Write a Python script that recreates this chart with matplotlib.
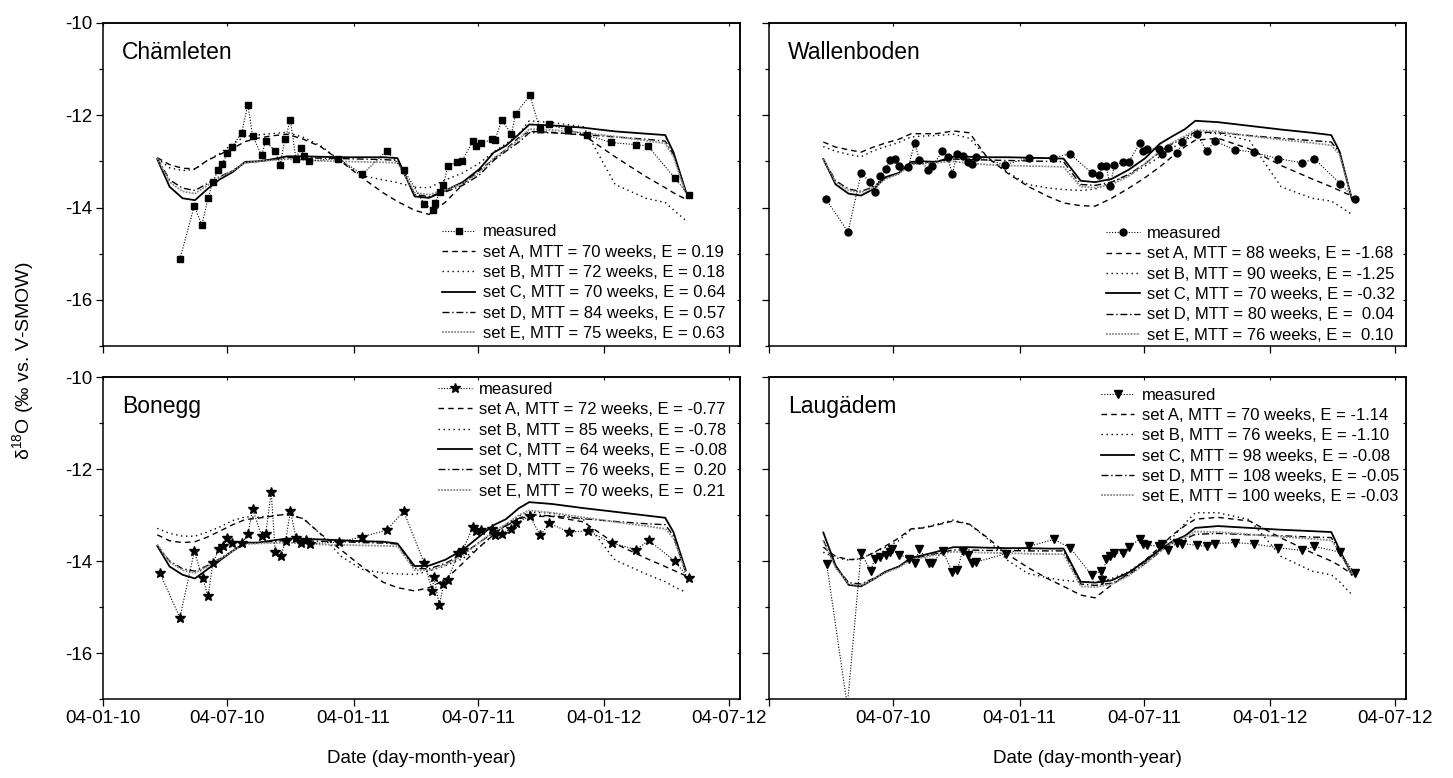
import matplotlib
matplotlib.use("Agg")
import matplotlib.pyplot as plt
import matplotlib.dates as mdates
from matplotlib.ticker import MultipleLocator, FixedLocator, NullFormatter
import pandas as pd

plt.rcParams["font.family"] = ["Liberation Sans", "DejaVu Sans"]
plt.rcParams["mathtext.fontset"] = "custom"
plt.rcParams["mathtext.rm"] = "Liberation Sans"
plt.rcParams["mathtext.it"] = "Liberation Sans:italic"
plt.rcParams["axes.unicode_minus"] = False

# ---- data ----
tick_dates = ["2010-01-04", "2010-07-04", "2011-01-04", "2011-07-04", "2012-01-04", "2012-07-04"]
tick_labels = ["04-01-10", "04-07-10", "04-01-11", "04-07-11", "04-01-12", "04-07-12"]

# model output (all parameter sets share the same time steps)
model_dates = ["2010-03-24", "2010-04-11", "2010-04-30", "2010-05-18", "2010-06-05", "2010-06-23",
               "2010-07-12", "2010-07-30", "2010-08-17", "2010-09-05", "2010-09-29", "2010-10-23",
               "2010-11-17", "2010-12-17", "2011-01-16", "2011-02-16", "2011-03-09", "2011-04-03",
               "2011-04-24", "2011-05-18", "2011-06-12", "2011-07-06", "2011-07-27", "2011-08-14",
               "2011-09-02", "2011-09-17", "2011-10-20", "2011-12-05", "2012-01-20", "2012-03-05",
               "2012-04-02", "2012-04-14", "2012-05-02"]

# Chämleten
cham_dates = ["2010-04-26", "2010-05-17", "2010-05-28", "2010-06-06", "2010-06-13", "2010-06-21",
              "2010-06-27", "2010-07-04", "2010-07-11", "2010-07-25", "2010-08-03", "2010-08-10",
              "2010-08-23", "2010-08-29", "2010-09-12", "2010-09-19", "2010-09-26", "2010-10-04",
              "2010-10-12", "2010-10-19", "2010-10-24", "2010-10-31", "2010-12-13", "2011-01-17",
              "2011-02-21", "2011-03-18", "2011-04-17", "2011-04-30", "2011-05-02", "2011-05-10",
              "2011-05-15", "2011-05-21", "2011-06-04", "2011-06-11", "2011-06-27", "2011-07-01",
              "2011-07-09", "2011-07-25", "2011-07-29", "2011-08-08", "2011-08-22", "2011-08-28",
              "2011-09-18", "2011-10-02", "2011-10-15", "2011-11-13", "2011-12-10", "2012-01-14",
              "2012-02-20", "2012-03-08", "2012-04-16", "2012-05-06"]
cham_meas = [-15.12, -13.96, -14.38, -13.80, -13.44, -13.18, -13.05, -12.82, -12.69, -12.38,
             -11.77, -12.45, -12.87, -12.56, -12.78, -13.07, -12.52, -12.11, -12.94, -12.72,
             -12.89, -12.99, -12.94, -13.28, -12.77, -13.18, -13.92, -14.05, -13.91, -13.67,
             -13.52, -13.11, -13.01, -12.99, -12.56, -12.66, -12.61, -12.52, -12.53, -12.11,
             -12.41, -11.97, -11.57, -12.28, -12.20, -12.32, -12.43, -12.59, -12.64, -12.67,
             -13.36, -13.73]
cham_a = [-12.92, -13.07, -13.15, -13.16, -12.98, -12.85, -12.72, -12.57, -12.50, -12.45, -12.41,
          -12.52, -12.68, -13.00, -13.35, -13.68, -13.87, -14.06, -14.15, -13.88, -13.50, -13.20,
          -12.95, -12.74, -12.48, -12.35, -12.37, -12.43, -12.90, -13.33, -13.57, -13.68, -13.82]
cham_b = [-12.93, -13.14, -13.20, -13.17, -12.98, -12.83, -12.62, -12.46, -12.43, -12.40, -12.37,
          -12.48, -12.66, -13.00, -13.31, -13.40, -13.46, -13.56, -13.57, -13.40, -13.25, -13.04,
          -12.80, -12.62, -12.40, -12.12, -12.16, -12.25, -13.50, -13.80, -13.89, -14.05, -14.28]
cham_c = [-12.95, -13.55, -13.80, -13.84, -13.60, -13.39, -13.23, -13.01, -13.00, -12.96, -12.89,
          -12.89, -12.90, -12.91, -12.91, -12.91, -12.93, -13.76, -13.79, -13.63, -13.45, -13.17,
          -12.81, -12.66, -12.41, -12.20, -12.22, -12.27, -12.35, -12.40, -12.43, -12.80, -13.65]
cham_d = [-12.93, -13.40, -13.58, -13.63, -13.48, -13.33, -13.20, -13.03, -13.00, -12.97, -12.92,
          -12.92, -12.93, -12.94, -12.95, -12.96, -12.98, -13.72, -13.76, -13.66, -13.52, -13.30,
          -12.98, -12.78, -12.58, -12.38, -12.38, -12.42, -12.47, -12.52, -12.56, -12.85, -13.65]
cham_e = [-12.93, -13.45, -13.65, -13.70, -13.52, -13.35, -13.20, -13.03, -13.00, -12.98, -12.95,
          -12.97, -12.99, -13.00, -13.01, -13.02, -13.03, -13.68, -13.72, -13.62, -13.48, -13.25,
          -12.93, -12.75, -12.52, -12.30, -12.32, -12.38, -12.46, -12.55, -12.61, -12.90, -13.68]
cham_labels = ["set A, MTT = 70 weeks, E = 0.19", "set B, MTT = 72 weeks, E = 0.18",
               "set C, MTT = 70 weeks, E = 0.64", "set D, MTT = 84 weeks, E = 0.57",
               "set E, MTT = 75 weeks, E = 0.63"]

# Wallenboden
wall_dates = ["2010-03-28", "2010-04-29", "2010-05-18", "2010-05-31", "2010-06-08", "2010-06-15",
              "2010-06-23", "2010-06-29", "2010-07-06", "2010-07-12", "2010-07-26", "2010-08-04",
              "2010-08-11", "2010-08-24", "2010-08-30", "2010-09-13", "2010-09-21", "2010-09-28",
              "2010-10-05", "2010-10-13", "2010-10-21", "2010-10-26", "2010-11-02", "2010-12-14",
              "2011-01-17", "2011-02-22", "2011-03-18", "2011-04-19", "2011-04-30", "2011-05-03",
              "2011-05-10", "2011-05-16", "2011-05-22", "2011-06-04", "2011-06-12", "2011-06-28",
              "2011-07-03", "2011-07-09", "2011-07-26", "2011-07-31", "2011-08-08", "2011-08-22",
              "2011-08-29", "2011-09-19", "2011-10-04", "2011-10-15", "2011-11-14", "2011-12-11",
              "2012-01-15", "2012-02-20", "2012-03-08", "2012-04-15", "2012-05-06"]
wall_meas = [-13.82, -14.53, -13.26, -13.44, -13.66, -13.31, -13.17, -12.98, -12.95, -13.09,
             -13.12, -12.60, -12.96, -13.18, -13.11, -12.78, -12.91, -13.27, -12.83, -12.88,
             -13.01, -13.05, -12.91, -13.07, -12.93, -12.93, -12.83, -13.25, -13.29, -13.11,
             -13.11, -13.54, -13.08, -13.01, -13.01, -12.61, -12.78, -12.73, -12.73, -12.84,
             -12.71, -12.82, -12.58, -12.41, -12.78, -12.56, -12.75, -12.80, -12.94, -13.03,
             -12.94, -13.48, -13.82]
wall_a = [-12.58, -12.69, -12.75, -12.80, -12.69, -12.60, -12.52, -12.40, -12.40, -12.40, -12.34,
          -12.38, -12.90, -13.25, -13.54, -13.77, -13.90, -13.96, -13.97, -13.80, -13.58, -13.35,
          -13.12, -12.90, -12.68, -12.54, -12.50, -12.73, -13.09, -13.38, -13.55, -13.63, -13.75]
wall_b = [-12.68, -12.78, -12.85, -12.90, -12.77, -12.68, -12.59, -12.47, -12.45, -12.44, -12.41,
          -12.50, -12.90, -13.23, -13.50, -13.58, -13.61, -13.63, -13.60, -13.45, -13.30, -13.10,
          -12.90, -12.72, -12.52, -12.37, -12.40, -12.55, -13.55, -13.80, -13.86, -13.97, -14.15]
wall_c = [-12.95, -13.50, -13.70, -13.74, -13.60, -13.34, -13.25, -13.01, -13.00, -13.01, -12.90,
          -12.90, -12.91, -12.91, -12.92, -12.93, -12.94, -13.42, -13.45, -13.38, -13.18, -12.93,
          -12.62, -12.46, -12.30, -12.12, -12.15, -12.23, -12.31, -12.38, -12.43, -12.78, -13.82]
wall_d = [-12.95, -13.42, -13.60, -13.65, -13.55, -13.35, -13.25, -13.05, -13.02, -13.00, -12.95,
          -12.96, -12.97, -12.98, -12.99, -13.00, -13.01, -13.50, -13.52, -13.45, -13.28, -13.05,
          -12.80, -12.62, -12.48, -12.36, -12.38, -12.44, -12.50, -12.55, -12.58, -12.80, -13.82]
wall_e = [-12.95, -13.45, -13.63, -13.67, -13.57, -13.38, -13.27, -13.07, -13.05, -13.03, -13.00,
          -13.04, -13.07, -13.09, -13.10, -13.11, -13.12, -13.55, -13.57, -13.50, -13.32, -13.05,
          -12.78, -12.60, -12.45, -12.32, -12.35, -12.45, -12.53, -12.60, -12.65, -12.85, -13.80]
wall_labels = ["set A, MTT = 88 weeks, E = -1.68", "set B, MTT = 90 weeks, E = -1.25",
               "set C, MTT = 70 weeks, E = -0.32", "set D, MTT = 80 weeks, E =  0.04",
               "set E, MTT = 76 weeks, E =  0.10"]

# Bonegg
bon_dates = ["2010-03-28", "2010-04-26", "2010-05-17", "2010-05-29", "2010-06-06", "2010-06-13",
             "2010-06-22", "2010-06-28", "2010-07-04", "2010-07-11", "2010-07-26", "2010-08-03",
             "2010-08-10", "2010-08-23", "2010-08-29", "2010-09-06", "2010-09-12", "2010-09-20",
             "2010-09-27", "2010-10-04", "2010-10-12", "2010-10-20", "2010-10-26", "2010-11-01",
             "2010-12-14", "2011-01-17", "2011-02-21", "2011-03-18", "2011-04-17", "2011-04-29",
             "2011-05-01", "2011-05-09", "2011-05-15", "2011-05-21", "2011-06-05", "2011-06-12",
             "2011-06-27", "2011-07-01", "2011-07-08", "2011-07-24", "2011-07-29", "2011-08-08",
             "2011-08-21", "2011-08-28", "2011-09-18", "2011-10-03", "2011-10-16", "2011-11-14",
             "2011-12-11", "2012-01-15", "2012-02-20", "2012-03-09", "2012-04-16", "2012-05-06"]
bon_meas = [-14.27, -15.23, -13.79, -14.36, -14.77, -14.05, -13.73, -13.68, -13.50, -13.60,
            -13.60, -13.42, -12.87, -13.46, -13.41, -12.50, -13.81, -13.89, -13.57, -12.91,
            -13.49, -13.60, -13.55, -13.62, -13.59, -13.47, -13.33, -12.92, -14.05, -14.65,
            -14.35, -14.96, -14.51, -14.42, -13.83, -13.76, -13.26, -13.35, -13.33, -13.30,
            -13.44, -13.41, -13.30, -13.18, -13.03, -13.44, -13.18, -13.37, -13.34, -13.61,
            -13.75, -13.55, -14.00, -14.37]
bon_a = [-13.43, -13.56, -13.60, -13.58, -13.48, -13.35, -13.21, -13.10, -13.07, -13.03, -12.98,
         -13.08, -13.41, -13.76, -14.12, -14.46, -14.58, -14.65, -14.58, -14.40, -14.05, -13.70,
         -13.43, -13.22, -13.08, -13.03, -13.03, -13.15, -13.62, -13.94, -14.12, -14.20, -14.32]
bon_b = [-13.29, -13.40, -13.46, -13.46, -13.37, -13.26, -13.12, -13.04, -13.05, -13.02, -12.98,
         -13.08, -13.42, -13.90, -14.18, -14.26, -14.28, -14.29, -14.22, -14.10, -13.95, -13.70,
         -13.43, -13.20, -13.02, -12.94, -12.96, -13.10, -13.98, -14.28, -14.45, -14.55, -14.68]
bon_c = [-13.67, -14.12, -14.30, -14.38, -14.18, -13.99, -13.78, -13.60, -13.60, -13.56, -13.51,
         -13.52, -13.53, -13.55, -13.57, -13.58, -13.62, -14.11, -14.10, -13.97, -13.76, -13.47,
         -13.22, -13.09, -12.85, -12.72, -12.76, -12.85, -12.93, -13.01, -13.06, -13.37, -14.20]
bon_d = [-13.67, -14.00, -14.17, -14.22, -14.10, -13.95, -13.78, -13.62, -13.60, -13.58, -13.55,
         -13.56, -13.57, -13.58, -13.60, -13.61, -13.63, -14.16, -14.17, -14.05, -13.85, -13.60,
         -13.38, -13.24, -13.07, -12.99, -13.02, -13.08, -13.14, -13.19, -13.21, -13.45, -14.25]
bon_e = [-13.64, -14.02, -14.20, -14.26, -14.12, -13.96, -13.78, -13.63, -13.62, -13.61, -13.60,
         -13.62, -13.64, -13.65, -13.66, -13.67, -13.68, -14.20, -14.20, -14.08, -13.88, -13.60,
         -13.35, -13.20, -13.00, -12.90, -12.95, -13.05, -13.15, -13.24, -13.30, -13.50, -14.25]
bon_labels = ["set A, MTT = 72 weeks, E = -0.77", "set B, MTT = 85 weeks, E = -0.78",
              "set C, MTT = 64 weeks, E = -0.08", "set D, MTT = 76 weeks, E =  0.20",
              "set E, MTT = 70 weeks, E =  0.21"]

# Laugädem
laug_dates = ["2010-03-29", "2010-04-28", "2010-05-18", "2010-06-01", "2010-06-07", "2010-06-14",
              "2010-06-23", "2010-06-29", "2010-07-02", "2010-07-13", "2010-07-27", "2010-08-04",
              "2010-08-11", "2010-08-25", "2010-08-30", "2010-09-14", "2010-09-28", "2010-10-05",
              "2010-10-13", "2010-10-21", "2010-10-27", "2010-11-02", "2010-12-15", "2011-01-18",
              "2011-02-23", "2011-03-19", "2011-04-19", "2011-05-02", "2011-05-04", "2011-05-10",
              "2011-05-15", "2011-05-22", "2011-06-04", "2011-06-12", "2011-06-28", "2011-07-03",
              "2011-07-09", "2011-07-26", "2011-07-31", "2011-08-08", "2011-08-22", "2011-08-29",
              "2011-09-19", "2011-10-04", "2011-10-15", "2011-11-14", "2011-12-11", "2012-01-15",
              "2012-02-20", "2012-03-08", "2012-04-15", "2012-05-06"]
laug_meas = [-14.07, -17.15, -13.82, -14.22, -13.95, -13.91, -13.87, -13.81, -13.74, -13.86,
             -13.95, -14.04, -13.74, -14.05, -14.04, -13.79, -14.23, -14.20, -13.79, -13.86,
             -14.04, -14.02, -13.84, -13.68, -13.53, -13.72, -14.31, -14.22, -14.42, -13.95,
             -13.89, -13.83, -13.83, -13.70, -13.52, -13.63, -13.65, -13.68, -13.63, -13.75,
             -13.60, -13.62, -13.66, -13.68, -13.62, -13.60, -13.63, -13.71, -13.77, -13.68,
             -13.81, -14.27]
laug_a = [-13.70, -13.90, -13.97, -13.95, -13.82, -13.67, -13.50, -13.30, -13.28, -13.22, -13.13,
          -13.20, -13.48, -13.85, -14.14, -14.40, -14.55, -14.74, -14.80, -14.52, -14.27, -13.98,
          -13.70, -13.44, -13.23, -13.09, -13.05, -13.13, -13.50, -13.82, -14.00, -14.10, -14.28]
laug_b = [-13.81, -13.93, -13.98, -13.95, -13.82, -13.70, -13.56, -13.31, -13.27, -13.20, -13.11,
          -13.20, -13.50, -13.98, -14.27, -14.37, -14.42, -14.45, -14.46, -14.38, -14.23, -13.98,
          -13.72, -13.50, -13.18, -12.95, -12.95, -13.10, -13.90, -14.22, -14.30, -14.45, -14.73]
laug_c = [-13.38, -14.10, -14.52, -14.55, -14.40, -14.23, -14.12, -13.93, -13.87, -13.80, -13.70,
          -13.70, -13.71, -13.72, -13.72, -13.73, -13.73, -14.45, -14.47, -14.42, -14.25, -14.00,
          -13.76, -13.58, -13.45, -13.28, -13.24, -13.28, -13.32, -13.35, -13.37, -13.75, -14.30]
laug_d = [-13.55, -14.12, -14.47, -14.50, -14.38, -14.23, -14.12, -13.95, -13.90, -13.84, -13.76,
          -13.76, -13.77, -13.77, -13.78, -13.78, -13.78, -14.50, -14.53, -14.48, -14.30, -14.05,
          -13.80, -13.62, -13.52, -13.42, -13.40, -13.43, -13.45, -13.48, -13.49, -13.78, -14.30]
laug_e = [-13.55, -14.15, -14.50, -14.53, -14.40, -14.25, -14.14, -13.97, -13.92, -13.86, -13.80,
          -13.81, -13.82, -13.83, -13.84, -13.85, -13.85, -14.55, -14.57, -14.50, -14.32, -14.06,
          -13.80, -13.60, -13.48, -13.36, -13.37, -13.42, -13.47, -13.52, -13.55, -13.80, -14.30]
laug_labels = ["set A, MTT = 70 weeks, E = -1.14", "set B, MTT = 76 weeks, E = -1.10",
               "set C, MTT = 98 weeks, E = -0.08", "set D, MTT = 108 weeks, E = -0.05",
               "set E, MTT = 100 weeks, E = -0.03"]

# ---- styles ----
set_styles = [
    dict(color="black", lw=1.0, dashes=(4, 3)),          # A dashed
    dict(color="black", lw=1.0, dashes=(1, 2.6)),        # B dotted
    dict(color="black", lw=1.3, linestyle="-"),          # C solid
    dict(color="black", lw=1.0, dashes=(5, 2, 1, 2)),    # D dash-dot
    dict(color="#8a8a8a", lw=1.3, dashes=(1, 0.7)),      # E fine grey dots
]

panels = [
    dict(name="Chämleten", pos=[0.0709, 0.5553, 0.4384, 0.4152], dates=cham_dates, meas=cham_meas,
         sets=[cham_a, cham_b, cham_c, cham_d, cham_e], labels=cham_labels, marker="s", ms=4.5,
         leg_loc="lower right", leg_anchor=(0.977, 0.015), first_label=True, bottom=False),
    dict(name="Wallenboden", pos=[0.5293, 0.5553, 0.4384, 0.4152], dates=wall_dates, meas=wall_meas,
         sets=[wall_a, wall_b, wall_c, wall_d, wall_e], labels=wall_labels, marker="o", ms=5,
         leg_loc="lower right", leg_anchor=(0.983, 0.01), first_label=False, bottom=False),
    dict(name="Bonegg", pos=[0.0709, 0.1015, 0.4384, 0.4139], dates=bon_dates, meas=bon_meas,
         sets=[bon_a, bon_b, bon_c, bon_d, bon_e], labels=bon_labels, marker="*", ms=7,
         leg_loc="upper right", leg_anchor=(0.98, 0.985), first_label=True, bottom=True),
    dict(name="Laugädem", pos=[0.5293, 0.1015, 0.4384, 0.4139], dates=laug_dates, meas=laug_meas,
         sets=[laug_a, laug_b, laug_c, laug_d, laug_e], labels=laug_labels, marker="v", ms=6,
         leg_loc="upper right", leg_anchor=(0.989, 0.967), first_label=False, bottom=True),
]

fig = plt.figure(figsize=(14.53, 7.78), dpi=100)
model_t = pd.to_datetime(model_dates)
ticks = pd.to_datetime(tick_dates)
tick_nums = mdates.date2num(ticks.to_pydatetime())

for p in panels:
    ax = fig.add_axes(p["pos"])
    handles = []
    for vals, st, lab in zip(p["sets"], set_styles, p["labels"]):
        ln, = ax.plot(model_t, vals, label=lab, **st)
        handles.append(ln)
    mh, = ax.plot(pd.to_datetime(p["dates"]), p["meas"], color="black", lw=0.8, dashes=(1, 1.5),
                  marker=p["marker"], ms=p["ms"], mfc="black", mec="black", label="measured")
    handles.insert(0, mh)

    ax.set_ylim(-17, -10)
    ax.yaxis.set_major_locator(MultipleLocator(2))
    ax.yaxis.set_minor_locator(MultipleLocator(1))
    ax.set_xlim(pd.Timestamp("2010-01-04"), pd.Timestamp("2012-07-20"))
    ax.set_xticks(ticks)
    labs = list(tick_labels)
    if not p["first_label"]:
        labs[0] = ""
    if p["bottom"]:
        ax.set_xticklabels(labs)
    else:
        ax.set_xticklabels([""] * len(labs))
    if not p["first_label"]:
        ax.set_yticklabels([])

    ax.tick_params(which="major", direction="out", length=5, width=0.9, labelsize=13.5, pad=3)
    ax.tick_params(which="minor", direction="out", length=3, width=0.9)
    for s in ax.spines.values():
        s.set_linewidth(1.1)

    # small inward ticks on the top and right frame
    try:
        top = ax.secondary_xaxis("top")
        top.xaxis.set_major_locator(FixedLocator(tick_nums))
        top.xaxis.set_major_formatter(NullFormatter())
        top.tick_params(direction="in", length=2.5, width=0.8)
        top.spines["top"].set_linewidth(1.1)
        right = ax.secondary_yaxis("right")
        right.yaxis.set_major_locator(MultipleLocator(1))
        right.yaxis.set_major_formatter(NullFormatter())
        right.tick_params(direction="in", length=2.5, width=0.8)
        right.spines["right"].set_linewidth(1.1)
    except Exception:
        pass

    ax.text(0.03, 0.945, p["name"], transform=ax.transAxes, fontsize=16.5, va="top", ha="left")

    ax.legend(handles=handles, loc=p["leg_loc"], bbox_to_anchor=p["leg_anchor"], frameon=False,
              fontsize=12, handlelength=2.0, handletextpad=0.45, labelspacing=0.32,
              borderpad=0, borderaxespad=0, numpoints=1)

    if p["bottom"]:
        cx = p["pos"][0] + p["pos"][2] / 2
        fig.text(cx, 0.025, "Date (day-month-year)", ha="center", va="center", fontsize=13.5)

fig.text(0.016, 0.536, "δ$^{18}$O (‰ vs. V-SMOW)", rotation=90, ha="center", va="center",
         fontsize=14)

fig.savefig("out.png", dpi=100)
